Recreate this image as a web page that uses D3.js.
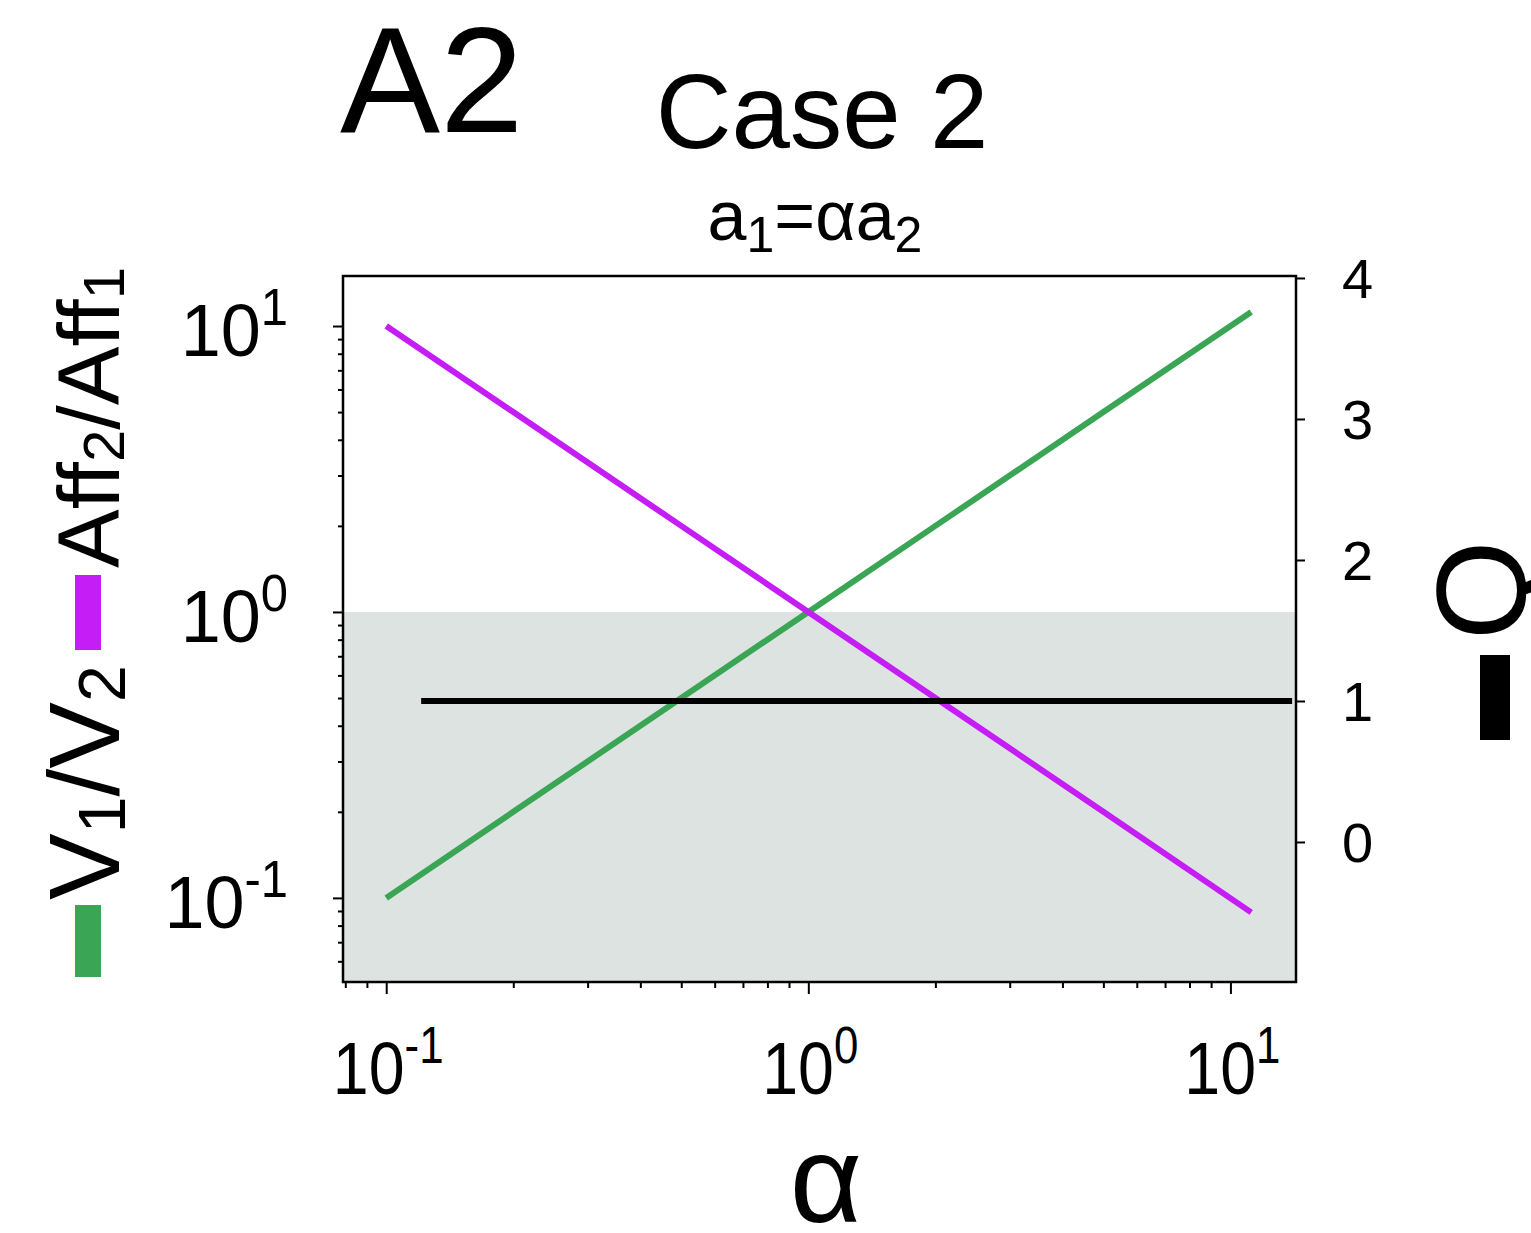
<!DOCTYPE html>
<html><head><meta charset="utf-8">
<script src="https://cdn.jsdelivr.net/npm/d3@7"></script>
<style>body{margin:0;background:#fff}svg{display:block}text{font-family:"Liberation Sans",Arial,sans-serif;fill:#000}</style>
</head><body><svg id="c" width="1531" height="1233"></svg>
<script>
// ---- data ----
const alpha      = [0.1, 0.2, 0.5, 1, 2, 5, 11.2];
const ratioV     = [0.1, 0.2, 0.5, 1, 2, 5, 11.2];
const ratioAff   = [10, 5, 2, 1, 0.5, 0.2, 0.089];
const qAlpha     = [0.121, 14.0];
const qValues    = [1, 1];
const xMajor     = [0.1, 1, 10];
const xMajorExp  = ["-1", "0", "1"];
const yMajor     = [0.1, 1, 10];
const yMajorExp  = ["-1", "0", "1"];
const xMinor     = [0.08,0.09,0.2,0.3,0.4,0.5,0.6,0.7,0.8,0.9,2,3,4,5,6,7,8,9];
const yMinor     = [0.06,0.07,0.08,0.09,0.2,0.3,0.4,0.5,0.6,0.7,0.8,0.9,2,3,4,5,6,7,8,9];
const rTicks     = [0, 1, 2, 3, 4];
const shadeRange = [0.0508, 1];

const svg = d3.select("#c");
const L=343, R=1296, T=276, B=982;
const x  = d3.scaleLog().domain([0.079, 14.3]).range([L, R]);
const y  = d3.scaleLog().domain([0.0508, 14.96]).range([B, T]);
const yR = d3.scaleLinear().domain([-0.993, 4.014]).range([B, T]);

// shading
svg.append("rect").attr("x", L).attr("width", R-L)
  .attr("y", y(shadeRange[1])).attr("height", y(shadeRange[0]) - y(shadeRange[1]))
  .attr("fill", "#dde3e0");

// lines
const lg = d3.line().x(d=>x(d[0])).y(d=>y(d[1]));
svg.append("path").attr("d", lg(alpha.map((a,i)=>[a, ratioV[i]])))
  .attr("fill","none").attr("stroke","#3aa655").attr("stroke-width",6);
svg.append("path").attr("d", lg(alpha.map((a,i)=>[a, ratioAff[i]])))
  .attr("fill","none").attr("stroke","#c41df5").attr("stroke-width",6);
const lq = d3.line().x(d=>x(d[0])).y(d=>yR(d[1]));
svg.append("path").attr("d", lq(qAlpha.map((a,i)=>[a, qValues[i]])))
  .attr("fill","none").attr("stroke","#000").attr("stroke-width",6);

// axes ticks
function styleAxis(g){ g.select(".domain").remove(); g.selectAll("line").attr("stroke","#000").attr("stroke-width",2); }
svg.append("g").attr("transform",`translate(0,${B})`).call(d3.axisBottom(x).tickValues(xMajor).tickSize(12).tickFormat("")).call(styleAxis);
svg.append("g").attr("transform",`translate(0,${B})`).call(d3.axisBottom(x).tickValues(xMinor).tickSize(6).tickFormat("")).call(styleAxis);
svg.append("g").attr("transform",`translate(${L},0)`).call(d3.axisLeft(y).tickValues(yMajor).tickSize(10).tickFormat("")).call(styleAxis);
svg.append("g").attr("transform",`translate(${L},0)`).call(d3.axisLeft(y).tickValues(yMinor).tickSize(5).tickFormat("")).call(styleAxis);
svg.append("g").attr("transform",`translate(${R},0)`).call(d3.axisRight(yR).tickValues(rTicks).tickSize(9).tickFormat("")).call(styleAxis);

// frame
svg.append("rect").attr("x",L).attr("y",T).attr("width",R-L).attr("height",B-T)
  .attr("fill","none").attr("stroke","#000").attr("stroke-width",2.5);

// power labels
function powLabel(cx, by, exp, anchor, sx){
  const t = svg.append("text").attr("x",cx).attr("y",by).attr("text-anchor",anchor)
    .attr("transform",`translate(${cx},0) scale(${sx},1) translate(${-cx},0)`);
  t.append("tspan").attr("font-size",75).text("10");
  t.append("tspan").attr("font-size",51).attr("dy",-31).text(exp);
}
xMajor.forEach((v,i)=>powLabel(x(v)+2, 1094, xMajorExp[i], "middle", 0.86));
yMajor.forEach((v,i)=>powLabel(288, y(v)+30, yMajorExp[i], "end", 0.96));

// right tick labels
rTicks.forEach(v=>svg.append("text").attr("x",1342).attr("y",yR(v)+20).attr("font-size",56).text(v));

// titles
svg.append("text").attr("x",340).attr("y",132).attr("font-size",150).text("A2");
svg.append("text").attr("x",822).attr("y",148).attr("font-size",105).attr("text-anchor","middle").text("Case 2");
const st = svg.append("text").attr("x",815).attr("y",240).attr("font-size",70).attr("text-anchor","middle");
st.append("tspan").text("a");
st.append("tspan").attr("font-size",50).attr("dy",12).text("1");
st.append("tspan").attr("dy",-12).text("=αa");
st.append("tspan").attr("font-size",50).attr("dy",12).text("2");

// x label
svg.append("text").attr("x",826).attr("y",1222).attr("font-size",125).attr("text-anchor","middle").text("α");

// left legend-style label
svg.append("rect").attr("x",75).attr("y",905).attr("width",26).attr("height",72).attr("fill","#3aa655");
svg.append("rect").attr("x",75).attr("y",575).attr("width",26).attr("height",75).attr("fill","#c41df5");
function rotLabel(bx, by, parts, fs){
  const t = svg.append("text").attr("transform",`translate(${bx},${by}) rotate(-90)`).attr("font-size",fs);
  parts.forEach(p=>{
    if(p.sub) t.append("tspan").attr("font-size",fs*0.66).attr("dy",fs*0.06).text(p.t);
    else t.append("tspan").attr("dy", p.after? -fs*0.06 : 0).text(p.t);
  });
}
rotLabel(119, 900, [{t:"V"},{t:"1",sub:true},{t:"/V",after:true},{t:"2",sub:true}], 100);
rotLabel(119, 568, [{t:"Aff"},{t:"2",sub:true},{t:"/Aff",after:true},{t:"1",sub:true}], 88);

// right Q label
svg.append("text").attr("transform",`translate(1526,640) rotate(-90)`).attr("font-size",128).text("Q");
svg.append("rect").attr("x",1480).attr("y",655).attr("width",30).attr("height",85).attr("fill","#000");
</script></body></html>
